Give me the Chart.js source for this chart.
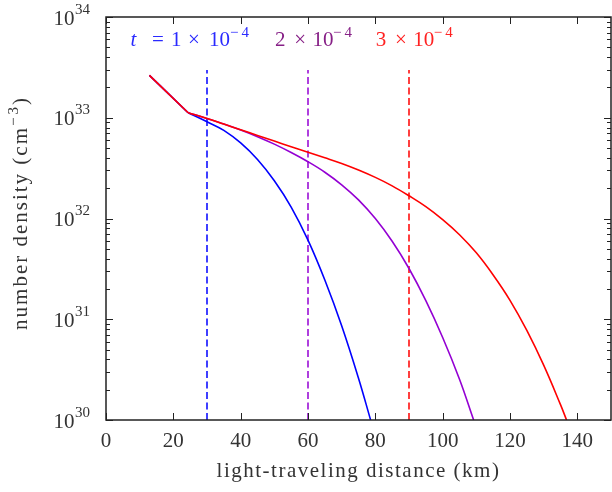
<html>
  <head>
    <style>
      body { margin: 0; background: #fff; }
      #wrap { width: 612px; height: 492px; }
    </style>
  </head>
  <body>
    <div id="wrap">
      <canvas id="myChart"></canvas>
    </div>

    <script src="https://cdn.jsdelivr.net/npm/chart.js"></script>

    <script>
      "use strict";

      // light-traveling distance (km) and number density (cm^-3)
      const xBlue = [12.9, 24.4, 30, 35, 40, 45, 50, 55, 60, 65, 70, 75, 78.6];
      const yBlue = [2.63e33, 1.12e33, 9.12e32, 7.50e32, 5.62e32, 3.85e32, 2.37e32, 1.30e32,
                     6.10e31, 2.45e31, 8.61e30, 2.60e30, 1.0e30];

      const xPurple = [12.9, 24.4, 30, 35, 40, 45, 50, 55, 60, 65, 70, 75, 80, 85, 90, 95, 100, 105, 109.2];
      const yPurple = [2.63e33, 1.12e33, 9.84e32, 8.65e32, 7.55e32, 6.49e32, 5.47e32, 4.52e32,
                       3.66e32, 2.88e32, 2.16e32, 1.53e32, 9.98e31, 5.94e31, 3.19e31, 1.53e31,
                       6.59e30, 2.54e30, 1.0e30];

      const xRed = [12.9, 24.4, 30, 35, 40, 45, 50, 55, 60, 65, 70, 75, 80, 85, 90, 95, 100,
                    105, 110, 115, 120, 125, 130, 135, 136.8];
      const yRed = [2.63e33, 1.12e33, 9.84e32, 8.65e32, 7.60e32, 6.68e32, 5.87e32, 5.16e32,
                    4.54e32, 4.01e32, 3.52e32, 3.03e32, 2.56e32, 2.11e32, 1.68e32, 1.31e32,
                    9.74e31, 6.90e31, 4.56e31, 2.75e31, 1.54e31, 7.74e30, 3.50e30, 1.42e30, 1.0e30];

      // light-crossing markers (dashed)
      const markerX = [30, 60, 90];
      const markerTop = 2.97e33;
      const markerBottom = 1e30;

      // times shown at top: t = n x 10^-4
      const timeMantissa = ['1', '2', '3'];
      const timeExponent = '4';

      const xTicks = [0, 20, 40, 60, 80, 100, 120, 140];
      const yDecades = [30, 31, 32, 33, 34];

      const xTitle = 'light-traveling distance (km)';
      const yTitle = ['number density (cm', '3', ')'];

      const colors = ['#0000ff', '#9400d3', '#ff0000'];
      const textColors = ['#2a2aff', '#861f86', '#ff2222'];
      const labelPos = [[7.3, 5.1e33], [50.2, 5.1e33], [80.1, 5.1e33]];

      const serif = "'Liberation Serif', 'DejaVu Serif', serif";
      const MINUS = '\u2212';

      function pts(xs, ys) { return xs.map((x, i) => ({ x: x, y: ys[i] })); }

      const datasets = [];
      markerX.forEach((mx, i) => {
          datasets.push({
              data: [{ x: mx, y: markerBottom }, { x: mx, y: markerTop }],
              borderColor: colors[i],
              borderWidth: 1.5,
              borderDash: [7, 3.5],
              pointRadius: 0,
              order: 4
          });
      });
      // each curve: a straight first leg up to the kink, then a smooth tail
      [[xBlue, yBlue], [xPurple, yPurple], [xRed, yRed]].forEach((s, i) => {
          const all = pts(s[0], s[1]);
          datasets.push({
              data: all.slice(0, 2),
              borderColor: colors[i],
              borderWidth: 1.6,
              pointRadius: 0,
              tension: 0,
              order: 3 - i
          });
          datasets.push({
              data: all.slice(1),
              borderColor: colors[i],
              borderWidth: 1.6,
              pointRadius: 0,
              tension: 0.4,
              order: 3 - i
          });
      });

      function line(ctx, x1, y1, x2, y2) {
          ctx.beginPath(); ctx.moveTo(x1, y1); ctx.lineTo(x2, y2); ctx.stroke();
      }

      // text pieces: [text, dx, font, dy]
      function pieces(ctx, list, x, y) {
          list.forEach(p => {
              ctx.font = p[2];
              ctx.fillText(p[0], x + p[1], y + p[3]);
          });
      }

      const decorations = {
          id: 'decorations',
          afterDraw(chart) {
              const ctx = chart.ctx;
              const a = chart.chartArea;
              const x = chart.scales.x, y = chart.scales.y;
              ctx.save();

              // inward ticks
              ctx.strokeStyle = '#222';
              ctx.lineWidth = 1;
              xTicks.forEach(v => {
                  const px = Math.round(x.getPixelForValue(v)) + 0.5;
                  line(ctx, px, a.bottom, px, a.bottom - 7);
                  line(ctx, px, a.top, px, a.top + 7);
              });
              yDecades.forEach(e => {
                  for (let m = 1; m <= 9; m++) {
                      if (e == 34 && m > 1) break;
                      const py = Math.round(y.getPixelForValue(m * Math.pow(10, e))) + 0.5;
                      const len = m == 1 ? 7 : 4;
                      line(ctx, a.left, py, a.left + len, py);
                      line(ctx, a.right, py, a.right - len, py);
                  }
              });

              // frame
              ctx.lineWidth = 1.5;
              ctx.strokeRect(a.left, a.top, a.right - a.left, a.bottom - a.top);

              const big = '21px ' + serif, small = '15px ' + serif;

              // y tick labels 10^n
              ctx.fillStyle = '#333';
              ctx.textBaseline = 'alphabetic';
              ctx.textAlign = 'left';
              yDecades.forEach(e => {
                  const py = y.getPixelForValue(Math.pow(10, e));
                  ctx.font = small;
                  const ew = ctx.measureText(String(e)).width;
                  ctx.font = big;
                  const bw = ctx.measureText('10').width;
                  const right = a.left - 16;
                  ctx.fillText('10', right - ew - bw - 0.5, py + 7.5);
                  ctx.font = small;
                  ctx.fillText(String(e), right - ew, py - 3.5);
              });

              // time labels
              labelPos.forEach((p, i) => {
                  const px = x.getPixelForValue(p[0]);
                  const py = y.getPixelForValue(p[1]);
                  ctx.fillStyle = textColors[i];
                  const list = i == 0 ? [
                      ['t', 0, 'italic ' + big, 0],
                      ['=', 21.5, big, 0],
                      [timeMantissa[i], 40.3, big, 0],
                      ['\u00D7', 57.3, big, 0],
                      ['10', 78.5, big, 0],
                      [MINUS, 99.5, small, -9],
                      [timeExponent, 111, small, -9]
                  ] : [
                      [timeMantissa[i], 0, big, 0],
                      ['\u00D7', 19.3, big, 0],
                      ['10', 37.5, big, 0],
                      [MINUS, 58, small, -9],
                      [timeExponent, 69.5, small, -9]
                  ];
                  pieces(ctx, list, px, py);
              });

              // axis titles
              ctx.fillStyle = '#333';
              ctx.font = big;
              ctx.letterSpacing = '1.5px';
              ctx.textAlign = 'center';
              ctx.textBaseline = 'alphabetic';
              ctx.fillText(xTitle, (a.left + a.right) / 2, 477);

              ctx.save();
              ctx.translate(27, 213);
              ctx.rotate(-Math.PI / 2);
              ctx.textAlign = 'left';
              ctx.letterSpacing = '2px';
              ctx.font = big;
              const w0 = ctx.measureText(yTitle[0]).width;
              const w2 = ctx.measureText(yTitle[2]).width;
              ctx.letterSpacing = '0px';
              ctx.font = small;
              const wm = ctx.measureText(MINUS).width + 3;
              const w1 = wm + ctx.measureText(yTitle[1]).width + 2;
              let tx = -(w0 + w1 + w2) / 2;
              ctx.letterSpacing = '2px';
              ctx.font = big;
              ctx.fillText(yTitle[0], tx, 0);
              tx += w0;
              ctx.letterSpacing = '0px';
              ctx.font = small;
              ctx.fillText(MINUS, tx, -9);
              ctx.fillText(yTitle[1], tx + wm, -9);
              tx += w1;
              ctx.letterSpacing = '2px';
              ctx.font = big;
              ctx.fillText(yTitle[2], tx, 0);
              ctx.restore();

              ctx.restore();
          }
      };

      const chart = new Chart(document.getElementById('myChart').getContext('2d'), {
          type: 'line',
          data: { datasets: datasets },
          plugins: [decorations],
          options: {
              responsive: true,
              maintainAspectRatio: false,
              animation: false,
              events: [],
              layout: { padding: { left: 0, top: 17, right: 1, bottom: 0 } },
              plugins: { legend: { display: false }, tooltip: { enabled: false } },
              scales: {
                  x: {
                      type: 'linear',
                      min: 0,
                      max: 150,
                      afterBuildTicks: s => { s.ticks = xTicks.map(v => ({ value: v })); },
                      afterFit: s => { s.height = 72; },
                      grid: { display: false, drawTicks: false },
                      border: { display: false },
                      ticks: {
                          padding: 9,
                          maxRotation: 0,
                          color: '#333',
                          font: { family: serif, size: 21 }
                      }
                  },
                  y: {
                      type: 'logarithmic',
                      min: 1e30,
                      max: 1e34,
                      afterFit: s => { s.width = 106; },
                      grid: { display: false },
                      border: { display: false },
                      ticks: { display: false }
                  }
              }
          }
      });
    </script>
  </body>
</html>
